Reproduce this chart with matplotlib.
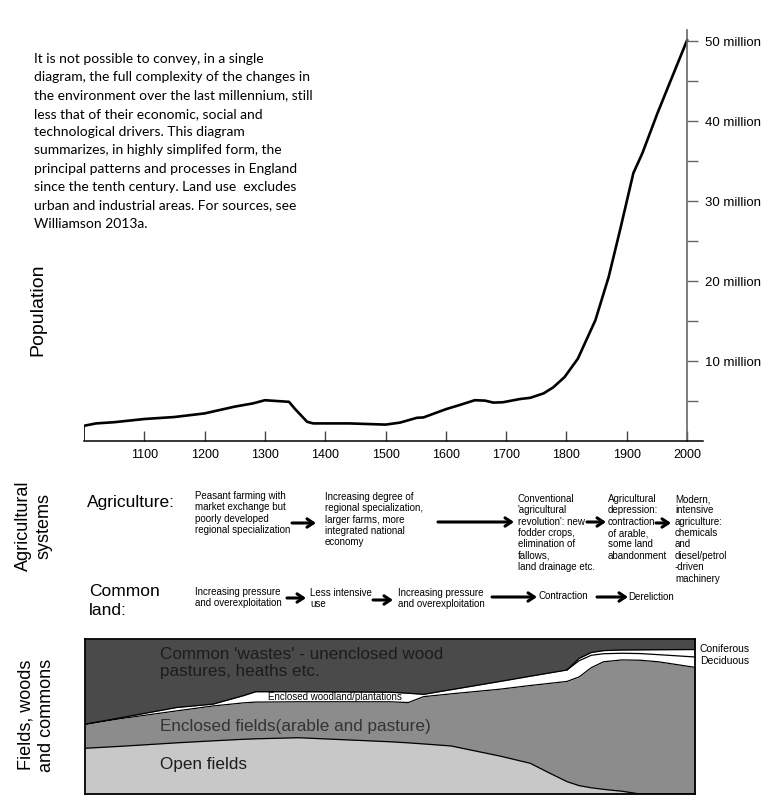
import matplotlib
matplotlib.use('Agg')
import matplotlib.pyplot as plt

plt.rcParams['font.family'] = ['Liberation Sans', 'DejaVu Sans']

# population of England (millions)
pop_years = [1000, 1020, 1050, 1100, 1150, 1200, 1250, 1280, 1300, 1340, 1350, 1370, 1380,
             1440, 1500, 1524, 1552, 1563, 1601, 1623, 1648, 1665, 1679, 1695, 1723, 1740,
             1762, 1778, 1797, 1819, 1848, 1870, 1889, 1911, 1926, 1951, 1973, 2000]
pop_mill = [1.9, 2.2, 2.35, 2.75, 3.0, 3.45, 4.3, 4.7, 5.1, 4.9, 4.0, 2.4, 2.2,
            2.2, 2.05, 2.3, 2.9, 2.95, 4.0, 4.5, 5.1, 5.05, 4.8, 4.85, 5.25, 5.4,
            5.95, 6.7, 8.0, 10.3, 15.1, 20.5, 26.4, 33.5, 36.0, 41.0, 45.1, 50.1]
year_ticks = [1100, 1200, 1300, 1400, 1500, 1600, 1700, 1800, 1900, 2000]
pop_ticks = [10, 20, 30, 40, 50]
pop_minor = [5, 15, 25, 35, 45]

# land use, cumulative share of the land (%)
land_years = [1000, 1060, 1150, 1210, 1260, 1280, 1350, 1500, 1530, 1555, 1600, 1680,
              1730, 1760, 1790, 1810, 1830, 1850, 1880, 1910, 1940, 2000]
open_top = [29.5, 30.8, 33.0, 34.3, 35.3, 35.6, 36.3, 33.7, 33.0, 32.3, 31.0, 24.5,
            19.8, 13.8, 8.0, 5.4, 4.0, 3.0, 1.8, 0.0, 0.0, 0.0]
enclosed_top = [45.0, 48.7, 53.6, 56.8, 58.8, 59.3, 59.5, 59.5, 59.0, 62.8, 64.6, 67.6,
                70.0, 71.3, 72.6, 75.5, 81.5, 85.3, 86.5, 86.3, 85.3, 81.7]
woodland_top = [45.0, 49.3, 55.8, 58.0, 63.5, 66.0, 66.0, 65.7, 65.0, 64.3, 67.3, 72.6,
                76.0, 78.0, 80.0, 86.0, 89.5, 90.5, 90.8, 90.6, 89.9, 88.4]
conifer_share = [0, 0, 0, 0, 0, 0, 0, 0, 0, 0, 0, 0,
                 0, 0, 0, 1.5, 1.8, 2.0, 2.1, 2.4, 3.2, 4.8]
conifer_top = [w + c for w, c in zip(woodland_top, conifer_share)]

intro = ("It is not possible to convey, in a single\n"
         "diagram, the full complexity of the changes in\n"
         "the environment over the last millennium, still\n"
         "less that of their economic, social and\n"
         "technological drivers. This diagram\n"
         "summarizes, in highly simplifed form, the\n"
         "principal patterns and processes in England\n"
         "since the tenth century. Land use  excludes\n"
         "urban and industrial areas. For sources, see\n"
         "Williamson 2013a.")

W, H = 778, 806
fig = plt.figure(figsize=(W / 100, H / 100), dpi=100, facecolor='white')

# ---- population panel
ax = fig.add_axes([84 / W, 1 - 441 / H, (702.7 - 84) / W, (441 - 30) / H])
ax.plot(pop_years, pop_mill, color='black', lw=1.9, solid_joinstyle='round')
ax.vlines(pop_years[0], 0, pop_mill[0], color='black', lw=1.2)
ax.set_xlim(1000, 2026)
ax.set_ylim(0, 51.4)
ax.spines['top'].set_visible(False)
ax.spines['left'].set_visible(False)
ax.spines['right'].set_position(('data', 2000))
ax.spines['right'].set_color('#666666')
ax.spines['right'].set_linewidth(1.2)
ax.spines['bottom'].set_linewidth(1.1)
ax.yaxis.tick_right()
ax.set_yticks(pop_ticks)
ax.set_yticks(pop_minor, minor=True)
ax.set_yticklabels([f'{v} million' for v in pop_ticks])
ax.tick_params(axis='y', which='both', direction='out', length=8, width=1,
               color='#666666', labelsize=9.5, pad=5)
ax.set_xticks(year_ticks)
ax.tick_params(axis='x', direction='in', length=7, width=1, color='#444444',
               labelsize=9, pad=6)

# ---- land use panel
ax2 = fig.add_axes([85 / W, 1 - 794 / H, 610 / W, (794 - 639) / H])
ax2.set_xlim(1000, 2000)
ax2.set_ylim(0, 100)
ax2.fill_between(land_years, 0, open_top, color='#c8c8c8', lw=0)
ax2.fill_between(land_years, open_top, enclosed_top, color='#8c8c8c', lw=0)
ax2.fill_between(land_years, enclosed_top, conifer_top, color='white', lw=0)
ax2.fill_between(land_years, conifer_top, 100, color='#4a4a4a', lw=0)
for b in (open_top, enclosed_top, woodland_top):
    ax2.plot(land_years, b, color='black', lw=0.9)
ax2.plot(land_years[14:], conifer_top[14:], color='black', lw=0.9)
ax2.set_xticks([])
ax2.set_yticks([])
for s in ax2.spines.values():
    s.set_linewidth(1.3)

# ---- overlay for text and arrows (pixel coords)
ov = fig.add_axes([0, 0, 1, 1])
ov.set_xlim(0, W)
ov.set_ylim(H, 0)
ov.axis('off')

ov.text(34, 53, intro, family=['Lato', 'DejaVu Sans'], fontsize=10, va='top',
        ha='left', linespacing=1.63)

ov.text(38, 310, 'Population', rotation=90, fontsize=14, ha='center', va='center')
ov.text(34, 526, 'Agricultural\nsystems', rotation=90, fontsize=13, ha='center',
        va='center', linespacing=1.25)
ov.text(36, 715, 'Fields, woods\nand commons', rotation=90, fontsize=13, ha='center',
        va='center', linespacing=1.25)

ov.text(87, 503, 'Agriculture:', fontsize=12.5, va='center')
ov.text(89, 601, 'Common\nland:', fontsize=12.5, va='center', linespacing=1.4)

small = dict(fontsize=7, va='top', ha='left', linespacing=1.17)
ov.text(195, 491, 'Peasant farming with\nmarket exchange but\npoorly developed\n'
        'regional specialization', **small)
ov.text(325, 492, 'Increasing degree of\nregional specialization,\nlarger farms, more\n'
        'integrated national\neconomy', **small)
ov.text(518, 494, "Conventional\n'agricultural\nrevolution': new\nfodder crops,\n"
        "elimination of\nfallows,\nland drainage etc.", **small)
ov.text(608, 494, 'Agricultural\ndepression:\ncontraction\nof arable,\nsome land\n'
        'abandonment', **small)
ov.text(675, 494, 'Modern,\nintensive\nagriculture:\nchemicals\nand\ndiesel/petrol\n'
        '-driven\nmachinery', **small)

ov.text(195, 587, 'Increasing pressure\nand overexploitation', **small)
ov.text(310, 588, 'Less intensive\nuse', **small)
ov.text(398, 588, 'Increasing pressure\nand overexploitation', **small)
ov.text(539, 596, 'Contraction', fontsize=7, va='center')
ov.text(628, 597, 'Dereliction', fontsize=7, va='center')

arrow = dict(arrowstyle='->,head_length=0.45,head_width=0.3', lw=2.2, color='black',
             shrinkA=0, shrinkB=0)
for x0, x1, y in [(292, 316, 523), (438, 514, 522), (587, 606, 522), (656, 671, 523),
                  (287, 306, 598), (373, 393, 600), (492, 537, 597), (597, 628, 597)]:
    ov.annotate('', xy=(x1, y), xytext=(x0, y), arrowprops=arrow)

ov.text(160, 663, "Common 'wastes' - unenclosed wood\npastures, heaths etc.",
        fontsize=12.3, color='#1c1c1c', va='center', linespacing=1.2)
ov.text(268, 697, 'Enclosed woodland/plantations', fontsize=7, color='black',
        va='center')
ov.text(160, 727, 'Enclosed fields(arable and pasture)', fontsize=12.3, color='#333333',
        va='center')
ov.text(160, 765, 'Open fields', fontsize=12.3, color='#1c1c1c', va='center')
ov.text(700, 649, 'Coniferous', fontsize=7.5, va='center')
ov.text(700, 661, 'Deciduous', fontsize=7.5, va='center')

fig.savefig('out.png', dpi=100, facecolor='white')
